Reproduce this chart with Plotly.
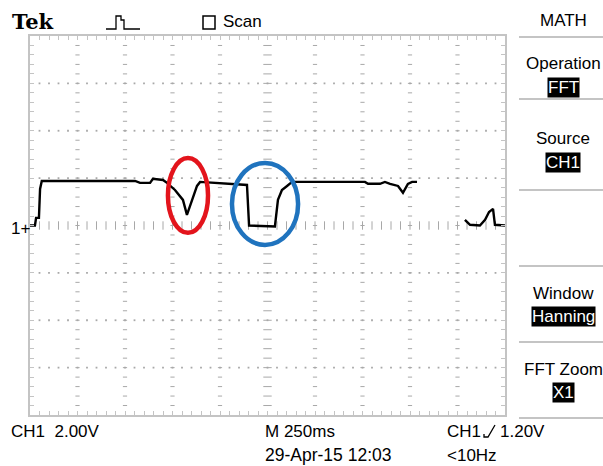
import numpy as np
import plotly.graph_objects as go

t_ms = [0, 26, 32, 47, 53, 62, 553, 579, 632, 647, 700, 721, 763, 805, 826, 853,
        879, 895, 1063, 1142, 1153, 1289, 1305, 1326, 1353, 1379, 1763, 1779, 1842,
        1868, 1895, 1937, 1963, 1989, 2011, 2037, 2100, 2289, 2316, 2368, 2395, 2416,
        2437, 2447, 2500]
volts = [0.0, 0.0, 0.32, 0.32, 1.54, 1.88, 1.88, 1.80, 1.80, 1.97, 1.92, 1.80, 1.50,
         1.08, 0.45, 1.08, 1.67, 1.84, 1.76, 1.71, 0.0, -0.04, 1.08, 1.50, 1.67, 1.84,
         1.84, 1.76, 1.76, 1.84, 1.76, 1.67, 1.38, 1.76, 1.84, 1.84, None, 0.24, 0.03,
         0.0, 0.24, 0.57, 0.70, 0.03, 0.0]

# highlighted regions (ellipses) in data units
ell_t0 = [726, 1063]
ell_t1 = [937, 1411]
ell_v0 = [-0.31, -0.82]
ell_v1 = [2.85, 2.64]
ell_col = ["#e3141c", "#1f73be"]

# screen settings
ms_per_div = 250
v_per_div = 2.0
n_xdiv = 10
n_ydiv = 8
minor = 5

menu_titles = ["Operation", "Source", "Window", "FFT Zoom"]
menu_values = ["FFT", "CH1", "Hanning", "X1"]

# ---- layout geometry (pixels) ----
W, H = 603, 466
L, R, T, B = 30, 505, 36, 415


def px(x):
    return (x - L) / (R - L)


def py(y):
    return (B - y) / (B - T)


x_max = ms_per_div * n_xdiv
y_half = v_per_div * n_ydiv / 2
dx_minor = ms_per_div / minor
dy_minor = v_per_div / minor

grid_col = "#a8a8a8"
fig = go.Figure()

# dotted graticule: vertical lines
vx, vy = [], []
for k in range(1, n_xdiv):
    if k == n_xdiv // 2:
        continue
    for yv in np.arange(-y_half + dy_minor, y_half, dy_minor):
        vx.append(k * ms_per_div)
        vy.append(yv)
fig.add_trace(go.Scatter(x=vx, y=vy, mode="markers", hoverinfo="skip",
                         marker=dict(symbol="line-ew", size=3,
                                     line=dict(width=1, color=grid_col))))
# horizontal lines
hx, hy = [], []
for k in range(1, n_ydiv):
    if k == n_ydiv // 2:
        continue
    for xv in np.arange(dx_minor, x_max, dx_minor):
        hx.append(xv)
        hy.append(-y_half + k * v_per_div)
fig.add_trace(go.Scatter(x=hx, y=hy, mode="markers", hoverinfo="skip",
                         marker=dict(symbol="square", size=1.8, color=grid_col,
                                     line=dict(width=0))))
# centre cross with ticks
cx = np.arange(dx_minor, x_max, dx_minor)
fig.add_trace(go.Scatter(x=cx, y=[0] * len(cx), mode="markers", hoverinfo="skip",
                         marker=dict(symbol="line-ns", size=6,
                                     line=dict(width=1, color=grid_col))))
cy = np.arange(-y_half + dy_minor, y_half, dy_minor)
fig.add_trace(go.Scatter(x=[x_max / 2] * len(cy), y=cy, mode="markers", hoverinfo="skip",
                         marker=dict(symbol="line-ew", size=6,
                                     line=dict(width=1, color=grid_col))))

# the signal trace
fig.add_trace(go.Scatter(x=t_ms, y=volts, mode="lines", connectgaps=False,
                         line=dict(color="black", width=2.4), hoverinfo="skip"))

shapes = []
for a, b, c, d, col in zip(ell_t0, ell_t1, ell_v0, ell_v1, ell_col):
    shapes.append(dict(type="circle", xref="x", yref="y", x0=a, x1=b, y0=c, y1=d,
                       line=dict(color=col, width=4.5)))

# right-hand menu separators
for yline in [37, 99, 190, 266, 342, 418]:
    shapes.append(dict(type="line", xref="paper", yref="paper",
                       x0=px(519), x1=px(603), y0=py(yline), y1=py(yline),
                       line=dict(color="#c4c4c4", width=2)))

# trigger glyph in the header
shapes.append(dict(type="path", xref="paper", yref="paper",
                   path=f"M {px(106)},{py(29)} L {px(116)},{py(29)} L {px(116)},{py(16)} "
                        f"L {px(121)},{py(16)} L {px(121)},{py(20)} L {px(124)},{py(20)} "
                        f"L {px(124)},{py(29)} L {px(140)},{py(29)}",
                   line=dict(color="black", width=1.3)))
# checkbox
shapes.append(dict(type="rect", xref="paper", yref="paper",
                   x0=px(203), x1=px(215), y0=py(29), y1=py(16),
                   line=dict(color="black", width=1.5)))
# trigger slope symbol
shapes.append(dict(type="path", xref="paper", yref="paper",
                   path=f"M {px(484)},{py(434)} L {px(484)},{py(437)} L {px(488)},{py(437)} "
                        f"L {px(495)},{py(425)}",
                   line=dict(color="black", width=1.3)))

FONT = "Liberation Sans, Arial, sans-serif"
ann = []


def txt(x, y, s, size=17, anchor="left", color="black", bg=None, family=FONT):
    d = dict(xref="paper", yref="paper", x=px(x), y=py(y), text=s, showarrow=False,
             xanchor=anchor, yanchor="middle",
             font=dict(family=family, size=size, color=color))
    if bg:
        d.update(bgcolor=bg, borderpad=0)
    ann.append(d)


txt(10, 22, "<b>Tek</b>", size=21, family="DejaVu Serif, Liberation Serif, serif")
txt(221, 22, "Scan", size=17)
txt(9, 228, "1+", size=17)

txt(563, 20, "MATH", anchor="center")
menu_y = [(63, 87), (138, 162), (293, 316), (369, 392)]
for (ty, vyy), ttl, val in zip(menu_y, menu_titles, menu_values):
    txt(563, ty, ttl, anchor="center")
    txt(563, vyy, val, anchor="center", color="white", bg="black")

txt(9, 431, f"CH1  {v_per_div:.2f}V")
txt(263, 431, f"M {ms_per_div}ms")
txt(263, 455, "29-Apr-15 12:03", size=17.5)
txt(445, 431, "CH1")
txt(498, 431, "1.20V")
txt(445, 455, "&lt;10Hz")

axis_common = dict(showgrid=False, zeroline=False, showticklabels=False,
                   showline=True, linecolor="#c4c4c4", linewidth=2, mirror="allticks",
                   ticks="inside", ticklen=4, tickcolor="#c4c4c4", tickwidth=1)
fig.update_layout(
    width=W, height=H,
    margin=dict(l=L, r=W - R, t=T, b=H - B),
    paper_bgcolor="white", plot_bgcolor="white",
    showlegend=False,
    xaxis=dict(range=[0, x_max], dtick=dx_minor, tick0=0, **axis_common),
    yaxis=dict(range=[-y_half, y_half], dtick=dy_minor, tick0=0, **axis_common),
    shapes=shapes, annotations=ann,
)
fig.write_html("out.html", config={"displayModeBar": False, "staticPlot": True},
               post_script="document.body.style.margin='0';document.body.style.overflow='hidden';")
